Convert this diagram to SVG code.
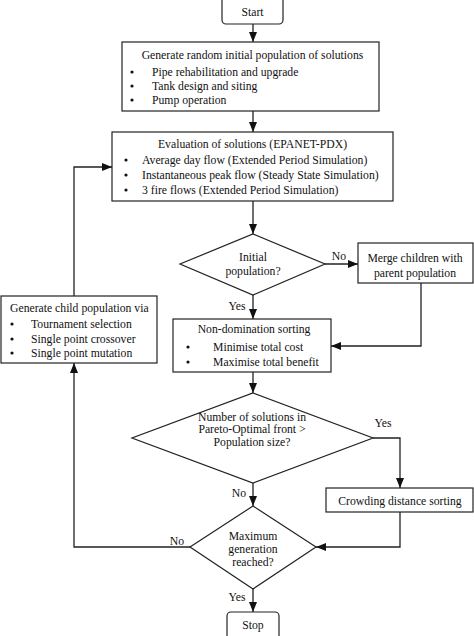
<svg xmlns="http://www.w3.org/2000/svg" width="474" height="636" viewBox="0 0 474 636">
<defs>
<marker id="ah" markerUnits="userSpaceOnUse" markerWidth="10" markerHeight="8" viewBox="0 0 10 8" refX="10" refY="4" orient="auto">
<path d="M0,0 L10,4 L0,8 Z" fill="#111"/>
</marker>
<style>
text{font-family:"Liberation Serif","Times New Roman",serif;font-size:11.7px;fill:#111}
.c{text-anchor:middle}
.box{fill:#fff;stroke:#222;stroke-width:1.2}
.ln{fill:none;stroke:#222;stroke-width:1.3}
.ar{fill:none;stroke:#222;stroke-width:1.3;marker-end:url(#ah)}
.b{fill:#111}
</style>
</defs>
<rect width="474" height="636" fill="#fff"/>
<g id="connectors">
<line class="ar" x1="253" y1="24" x2="253" y2="42"/>
<line class="ar" x1="253" y1="111" x2="253" y2="132"/>
<line class="ar" x1="253" y1="201" x2="253" y2="234"/>
<line class="ar" x1="325" y1="264" x2="358" y2="264"/>
<polyline class="ar" points="421,283 421,346 331,346"/>
<line class="ar" x1="253" y1="295" x2="253" y2="319"/>
<polyline class="ar" points="74,296 74,167 112,167"/>
<line class="ar" x1="253" y1="372" x2="253" y2="393"/>
<polyline class="ar" points="373,438 400,438 400,488"/>
<polyline class="ar" points="400,512 400,547 316,547"/>
<line class="ar" x1="253" y1="483" x2="253" y2="506"/>
<polyline class="ar" points="190,547 74,547 74,363"/>
<line class="ar" x1="253" y1="589" x2="253" y2="612"/>
<text class="c" x="339" y="260">No</text>
<text class="c" x="237" y="310">Yes</text>
<text class="c" x="383" y="427">Yes</text>
<text class="c" x="239" y="497">No</text>
<text class="c" x="177" y="545">No</text>
<text class="c" x="237" y="601">Yes</text>
</g>
<g id="start">
<rect class="box" x="222" y="-4" width="61" height="28" rx="4"/>
<text class="c" x="252.5" y="16">Start</text>
</g>
<g id="generate-initial">
<rect class="box" x="122" y="42" width="257" height="69"/>
<text class="c" x="252.5" y="59">Generate random initial population of solutions</text>
<circle class="b" cx="132" cy="72" r="1.6"/><text x="152" y="76">Pipe rehabilitation and upgrade</text>
<circle class="b" cx="132" cy="86" r="1.6"/><text x="152" y="90">Tank design and siting</text>
<circle class="b" cx="132" cy="100" r="1.6"/><text x="152" y="104">Pump operation</text>
</g>
<g id="evaluation">
<rect class="box" x="112" y="132" width="281" height="69"/>
<text class="c" x="252.5" y="148">Evaluation of solutions (EPANET-PDX)</text>
<circle class="b" cx="126" cy="160" r="1.6"/><text x="142" y="164">Average day flow (Extended Period Simulation)</text>
<circle class="b" cx="126" cy="175" r="1.6"/><text x="142" y="179">Instantaneous peak flow (Steady State Simulation)</text>
<circle class="b" cx="126" cy="190" r="1.6"/><text x="142" y="194">3 fire flows (Extended Period Simulation)</text>
</g>
<g id="initial-population">
<polygon class="box" points="253,234 325,264 253,295 180,264"/>
<text class="c" x="253" y="261">Initial</text>
<text class="c" x="253" y="275">population?</text>
</g>
<g id="merge">
<rect class="box" x="358" y="243" width="115" height="40"/>
<text class="c" x="415" y="262">Merge children with</text>
<text class="c" x="415" y="277">parent population</text>
</g>
<g id="non-domination">
<rect class="box" x="173" y="319" width="158" height="53"/>
<text class="c" x="254" y="333">Non-domination sorting</text>
<circle class="b" cx="188" cy="347" r="1.6"/><text x="213" y="351">Minimise total cost</text>
<circle class="b" cx="188" cy="362" r="1.6"/><text x="213" y="366">Maximise total benefit</text>
</g>
<g id="child-population">
<rect class="box" x="1" y="296" width="156" height="67"/>
<text x="10" y="312">Generate child population via</text>
<circle class="b" cx="12" cy="324" r="1.6"/><text x="31" y="328">Tournament selection</text>
<circle class="b" cx="12" cy="339" r="1.6"/><text x="31" y="343">Single point crossover</text>
<circle class="b" cx="12" cy="353" r="1.6"/><text x="31" y="357">Single point mutation</text>
</g>
<g id="pareto-check">
<polygon class="box" points="253,393 373,438 253,483 132,438"/>
<text class="c" x="252" y="421">Number of solutions in</text>
<text class="c" x="252" y="433">Pareto-Optimal front &gt;</text>
<text class="c" x="252" y="446">Population size?</text>
</g>
<g id="crowding">
<rect class="box" x="326" y="488" width="147" height="24"/>
<text class="c" x="400" y="505">Crowding distance sorting</text>
</g>
<g id="max-generation">
<polygon class="box" points="253,506 316,547 253,589 190,547"/>
<text class="c" x="253" y="540">Maximum</text>
<text class="c" x="253" y="553">generation</text>
<text class="c" x="253" y="566">reached?</text>
</g>
<g id="stop">
<rect class="box" x="227" y="612" width="52" height="28" rx="4"/>
<text class="c" x="253" y="629">Stop</text>
</g>
</svg>
